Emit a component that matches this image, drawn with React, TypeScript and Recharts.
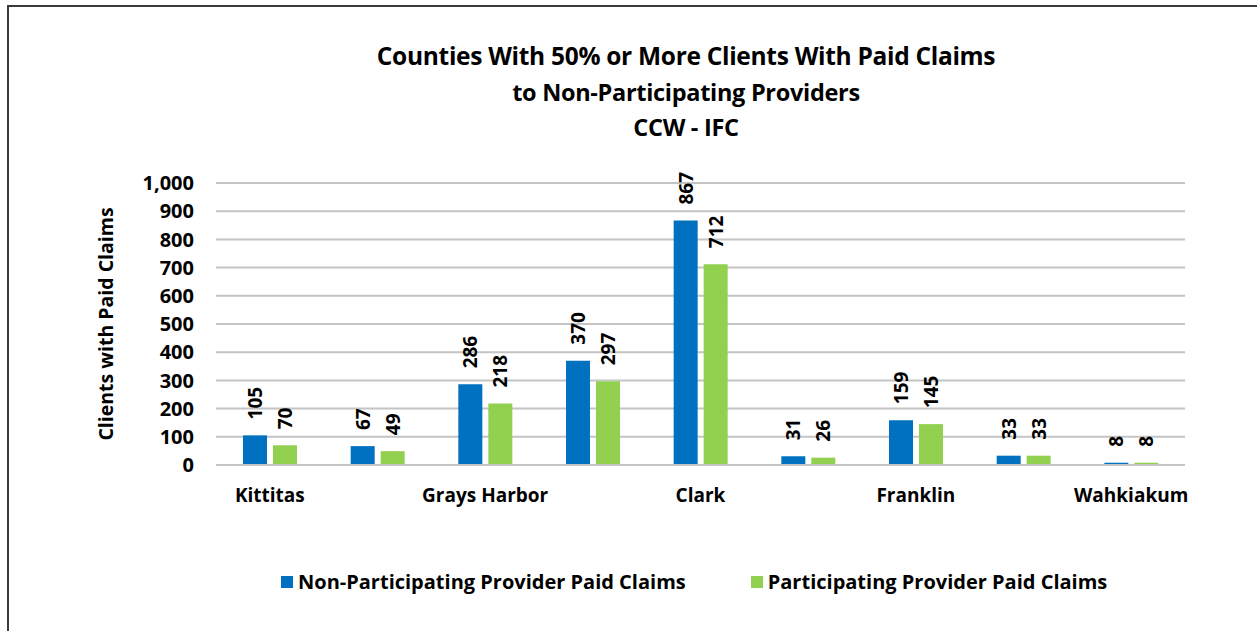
import React from "react";
import {
  BarChart,
  Bar,
  XAxis,
  YAxis,
  CartesianGrid,
  LabelList,
  Label,
} from "recharts";

// counties, only every other name is printed on the axis
const counties = [
  "Kittitas",
  "Lewis",
  "Grays Harbor",
  "Mason",
  "Clark",
  "Pacific",
  "Franklin",
  "Skamania",
  "Wahkiakum",
];
const nonParticipating = [105, 67, 286, 370, 867, 31, 159, 33, 8];
const participating = [70, 49, 218, 297, 712, 26, 145, 33, 8];
const yTicks = [0, 100, 200, 300, 400, 500, 600, 700, 800, 900, 1000];

const titleLines = [
  "Counties With 50% or More Clients With Paid Claims",
  "to Non-Participating Providers",
  "CCW - IFC",
];

const BLUE = "#0070C0";
const GREEN = "#92D050";
const FONT = "'Open Sans', sans-serif";

const data = counties.map((county, i) => ({
  county,
  nonPart: nonParticipating[i],
  part: participating[i],
}));

const numberFormat = (v: number) => v.toLocaleString("en-US");

const renderValue = (props: any) => {
  const { x, y, width, value } = props;
  const cx = x + width / 2;
  const cy = y - 16;
  return (
    <text
      x={cx}
      y={cy}
      transform={`rotate(-90 ${cx} ${cy})`}
      textAnchor="start"
      dominantBaseline="central"
      fontFamily={FONT}
      fontWeight={700}
      fontSize={19}
      fill="#000"
    >
      {value}
    </text>
  );
};

export default function App() {
  return (
    <div
      style={{
        position: "absolute",
        left: 0,
        top: 0,
        width: 1257,
        height: 631,
        background: "#fff",
        overflow: "hidden",
      }}
    >
      {/* frame of the exported chart */}
      <div
        style={{
          position: "absolute",
          left: 7,
          top: 5,
          width: 1300,
          height: 700,
          borderLeft: "2px solid #3a3a3a",
          borderTop: "2px solid #3a3a3a",
        }}
      />
      {titleLines.map((line, i) => (
        <div
          key={i}
          style={{
            position: "absolute",
            left: 336,
            width: 700,
            top: 41 + i * 35.5,
            textAlign: "center",
            fontFamily: FONT,
            fontWeight: 700,
            fontSize: i === 0 ? 24.5 : 23.5,
            lineHeight: "30px",
            letterSpacing: -0.3,
            color: "#000",
            whiteSpace: "pre",
          }}
        >
          {line}
        </div>
      ))}
      <BarChart
        width={1257}
        height={631}
        data={data}
        margin={{ top: 183, right: 72, left: 90, bottom: 136 }}
        barSize={24}
        barGap={6}
      >
        <CartesianGrid
          horizontal
          vertical={false}
          stroke="#c4c4c4"
          strokeWidth={2}
        />
        <XAxis
          dataKey="county"
          interval={1}
          tickLine={false}
          tickMargin={18}
          axisLine={{ stroke: "#c4c4c4", strokeWidth: 2 }}
          tick={{ fontFamily: FONT, fontWeight: 700, fontSize: 19, fill: "#000" }}
        />
        <YAxis
          width={126}
          domain={[0, 1000]}
          ticks={yTicks}
          interval={0}
          tickFormatter={numberFormat}
          tickLine={false}
          axisLine={false}
          tickMargin={16}
          tick={{ fontFamily: FONT, fontWeight: 700, fontSize: 20, fill: "#000" }}
        >
          <Label
            value="Clients with Paid Claims"
            angle={-90}
            position="insideLeft"
            offset={16}
            style={{
              fontFamily: FONT,
              fontWeight: 700,
              fontSize: 19.5,
              fill: "#000",
              textAnchor: "middle",
            }}
          />
        </YAxis>
        <Bar dataKey="nonPart" fill={BLUE} isAnimationActive={false}>
          <LabelList dataKey="nonPart" content={renderValue} />
        </Bar>
        <Bar dataKey="part" fill={GREEN} isAnimationActive={false}>
          <LabelList dataKey="part" content={renderValue} />
        </Bar>
      </BarChart>
      <div
        style={{
          position: "absolute",
          left: 281,
          top: 568,
          display: "flex",
          alignItems: "center",
          fontFamily: FONT,
          fontWeight: 700,
          fontSize: 20,
          color: "#000",
          whiteSpace: "nowrap",
        }}
      >
        <span style={{ width: 12, height: 12, background: BLUE, marginRight: 5 }} />
        <span>Non-Participating Provider Paid Claims</span>
        <span
          style={{ width: 12, height: 12, background: GREEN, marginLeft: 65, marginRight: 5 }}
        />
        <span>Participating Provider Paid Claims</span>
      </div>
    </div>
  );
}
